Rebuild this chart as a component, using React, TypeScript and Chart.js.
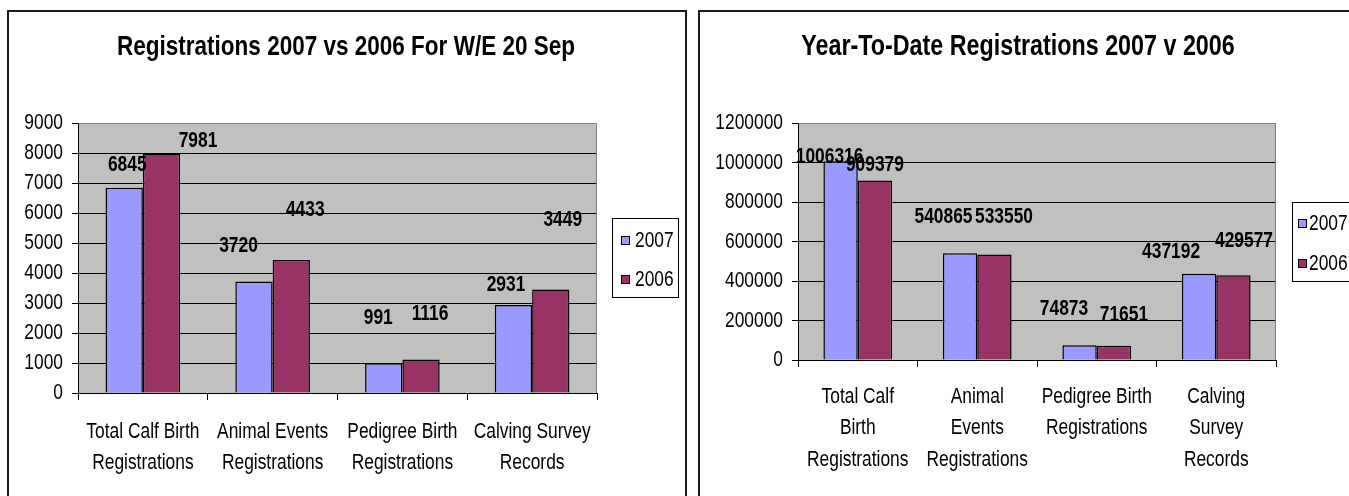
import React, { useEffect, useRef } from 'react';
import { Chart, registerables } from 'chart.js';

Chart.register(...registerables);

const FONT = "'Liberation Sans', Arial, sans-serif";
const CONDENSE = 0.79; // horizontal squeeze of the reference lettering
Chart.defaults.font.family = FONT;
Chart.defaults.color = '#000';

// ---------- data ----------
const seriesNames = ['2007', '2006'];
const seriesColors = ['#9999FF', '#993366'];

const weeklyTitle = 'Registrations 2007 vs 2006 For W/E 20 Sep';
const weeklyCategories = [
  ['Total Calf Birth', 'Registrations'],
  ['Animal Events', 'Registrations'],
  ['Pedigree Birth', 'Registrations'],
  ['Calving Survey', 'Records'],
];
const weekly2007 = [6845, 3720, 991, 2931];
const weekly2006 = [7981, 4433, 1116, 3449];
const weeklyTicks = [0, 1000, 2000, 3000, 4000, 5000, 6000, 7000, 8000, 9000];

const ytdTitle = 'Year-To-Date Registrations 2007 v 2006';
const ytdCategories = [
  ['Total Calf', 'Birth', 'Registrations'],
  ['Animal', 'Events', 'Registrations'],
  ['Pedigree Birth', 'Registrations'],
  ['Calving', 'Survey', 'Records'],
];
const ytd2007 = [1006316, 540865, 74873, 437192];
const ytd2006 = [909379, 533550, 71651, 429577];
const ytdTicks = [0, 200000, 400000, 600000, 800000, 1000000, 1200000];

// ---------- value-label nudges (px from bar top centre, style only) ----------
const weeklyNudge2007 = [[3, -23], [-15.5, -35], [-5.5, -45], [-7.5, -20]];
const weeklyNudge2006 = [[36.5, -12.5], [14, -50], [9, -46], [12, -70]];
const ytdNudge2007 = [[-11, -4], [-16.6, -36], [-15.6, -36], [-28, -22]];
const ytdNudge2006 = [[0, -15], [9.6, -38], [10, -31], [10.6, -34.5]];

type Spec = {
  title: string;
  titleSize: number;
  titleX: number;
  titleY: number;
  categories: string[][];
  series: number[][];
  ticks: number[];
  nudges: number[][][];
  width: number;
  height: number;
  padding: { left: number; top: number; right: number; bottom: number };
  yWidth: number;
  xHeight: number;
  xPad: number;
  xLineHeight: string;
  legend: { x: number; y: number; w: number; h: number; sx: number; tx: number; rows: number[] };
};

// draw all text horizontally condensed, like the reference lettering
const condenseText = (ctx: any, k: number) => {
  const fill = ctx.fillText.bind(ctx);
  const measure = ctx.measureText.bind(ctx);
  ctx.fillText = (t: string, x: number, y: number) => {
    ctx.save();
    ctx.translate(x, y);
    ctx.scale(k, 1);
    fill(t, 0, 0);
    ctx.restore();
  };
  ctx.measureText = (t: string) => {
    const m = measure(t);
    return {
      width: m.width * k,
      actualBoundingBoxAscent: m.actualBoundingBoxAscent,
      actualBoundingBoxDescent: m.actualBoundingBoxDescent,
      actualBoundingBoxLeft: m.actualBoundingBoxLeft * k,
      actualBoundingBoxRight: m.actualBoundingBoxRight * k,
      fontBoundingBoxAscent: m.fontBoundingBoxAscent,
      fontBoundingBoxDescent: m.fontBoundingBoxDescent,
    };
  };
};

const buildConfig = (s: Spec): any => {
  const max = s.ticks[s.ticks.length - 1];
  const decor = {
    id: 'decor',
    beforeDraw(chart: any) {
      const { ctx, chartArea: a } = chart;
      ctx.save();
      ctx.fillStyle = '#C0C0C0';
      ctx.fillRect(a.left, a.top, a.right - a.left, a.bottom - a.top);
      ctx.restore();
    },
    afterDraw(chart: any) {
      const { ctx, chartArea: a } = chart;
      ctx.save();
      // plot frame: grey top and right
      ctx.strokeStyle = '#808080';
      ctx.lineWidth = 1;
      ctx.beginPath();
      ctx.moveTo(Math.round(a.left) + 0.5, Math.round(a.top) + 0.5);
      ctx.lineTo(Math.round(a.right) - 0.5, Math.round(a.top) + 0.5);
      ctx.lineTo(Math.round(a.right) - 0.5, Math.round(a.bottom));
      ctx.stroke();

      // title
      ctx.fillStyle = '#000';
      ctx.font = `bold ${s.titleSize}px ${FONT}`;
      ctx.textAlign = 'center';
      ctx.textBaseline = 'middle';
      ctx.fillText(s.title, s.titleX, s.titleY);

      // value labels
      ctx.font = `bold 22px ${FONT}`;
      chart.data.datasets.forEach((ds: any, i: number) => {
        const meta = chart.getDatasetMeta(i);
        meta.data.forEach((el: any, j: number) => {
          const [dx, dy] = s.nudges[i][j];
          ctx.fillText(String(ds.data[j]), el.x + dx, el.y + dy);
        });
      });

      // legend
      const L = s.legend;
      ctx.fillStyle = '#fff';
      ctx.fillRect(L.x, L.y, L.w, L.h);
      ctx.strokeStyle = '#000';
      ctx.strokeRect(L.x + 0.5, L.y + 0.5, L.w - 1, L.h - 1);
      ctx.font = `22px ${FONT}`;
      ctx.textAlign = 'left';
      chart.data.datasets.forEach((ds: any, i: number) => {
        const cy = L.rows[i];
        ctx.fillStyle = ds.backgroundColor;
        ctx.fillRect(L.sx, cy - 4, 8, 8);
        ctx.strokeStyle = '#000';
        ctx.strokeRect(L.sx + 0.5, cy - 4 + 0.5, 8, 8);
        ctx.fillStyle = '#000';
        ctx.fillText(ds.label, L.tx, cy + 1);
      });
      ctx.restore();
    },
  };

  return {
    type: 'bar',
    data: {
      labels: s.categories,
      datasets: s.series.map((d, i) => ({
        label: seriesNames[i],
        data: d,
        backgroundColor: seriesColors[i],
        borderColor: '#000',
        borderWidth: 1.5,
        categoryPercentage: 0.575,
        barPercentage: 1,
      })),
    },
    options: {
      responsive: false,
      devicePixelRatio: 1,
      animation: false,
      layout: { padding: s.padding },
      plugins: {
        legend: { display: false },
        title: { display: false },
        tooltip: { enabled: false },
      },
      scales: {
        x: {
          offset: true,
          grid: {
            display: true,
            drawOnChartArea: false,
            drawTicks: true,
            tickLength: 7,
            color: '#000',
            offset: true,
          },
          border: { display: true, color: '#000', width: 1 },
          ticks: {
            autoSkip: false,
            maxRotation: 0,
            minRotation: 0,
            padding: s.xPad,
            color: '#000',
            font: { family: FONT, size: 22, lineHeight: s.xLineHeight },
          },
          afterFit: (sc: any) => {
            sc.height = s.xHeight;
          },
        },
        y: {
          min: s.ticks[0],
          max,
          grid: {
            color: (c: any) => (c.tick && c.tick.value === max ? '#808080' : '#000'),
            tickColor: '#000',
            tickLength: 6,
            lineWidth: 1,
          },
          border: { display: true, color: '#000', width: 1 },
          ticks: {
            stepSize: s.ticks[1] - s.ticks[0],
            padding: 9,
            color: '#000',
            font: { family: FONT, size: 22 },
            callback: (v: any) => String(v),
          },
          afterFit: (sc: any) => {
            sc.width = s.yWidth;
          },
        },
      },
    },
    plugins: [decor],
  };
};

const weeklySpec: Spec = {
  title: weeklyTitle,
  titleSize: 28.5,
  titleX: 337,
  titleY: 35,
  categories: weeklyCategories,
  series: [weekly2007, weekly2006],
  ticks: weeklyTicks,
  nudges: [weeklyNudge2007, weeklyNudge2006],
  width: 676,
  height: 484,
  padding: { left: 4, top: 111, right: 88, bottom: 3 },
  yWidth: 65,
  xHeight: 100,
  xPad: 16,
  xLineHeight: '31px',
  legend: { x: 603, y: 206, w: 67, h: 80, sx: 612, tx: 626, rows: [228, 267] },
};

const ytdSpec: Spec = {
  title: ytdTitle,
  titleSize: 29.5,
  titleX: 318,
  titleY: 35,
  categories: ytdCategories,
  series: [ytd2007, ytd2006],
  ticks: ytdTicks,
  nudges: [ytdNudge2007, ytdNudge2006],
  width: 680,
  height: 484,
  padding: { left: 6, top: 111, right: 104, bottom: 16 },
  yWidth: 92,
  xHeight: 120,
  xPad: 14,
  xLineHeight: '31.5px',
  legend: { x: 592, y: 190, w: 92, h: 80, sx: 598, tx: 609, rows: [211, 251] },
};

function ChartCanvas({ spec }: { spec: Spec }) {
  const ref = useRef<HTMLCanvasElement | null>(null);
  useEffect(() => {
    const canvas = ref.current;
    if (!canvas) return;
    condenseText(canvas.getContext('2d'), CONDENSE);
    const chart = new Chart(canvas, buildConfig(spec));
    return () => chart.destroy();
  }, [spec]);
  return (
    <canvas
      ref={ref}
      width={spec.width}
      height={spec.height}
      style={{ display: 'block', width: spec.width, height: spec.height }}
    />
  );
}

export default function App() {
  return (
    <div
      style={{
        position: 'absolute',
        left: 0,
        top: 0,
        width: 1349,
        height: 496,
        overflow: 'hidden',
        background: '#fff',
      }}
    >
      <div
        style={{
          position: 'absolute',
          left: 7,
          top: 10,
          width: 680,
          height: 520,
          border: '2px solid #1a1a1a',
          boxSizing: 'border-box',
          background: '#fff',
        }}
      >
        <ChartCanvas spec={weeklySpec} />
      </div>
      <div
        style={{
          position: 'absolute',
          left: 698,
          top: 10,
          width: 700,
          height: 520,
          border: '2px solid #1a1a1a',
          boxSizing: 'border-box',
          background: '#fff',
        }}
      >
        <ChartCanvas spec={ytdSpec} />
      </div>
    </div>
  );
}
